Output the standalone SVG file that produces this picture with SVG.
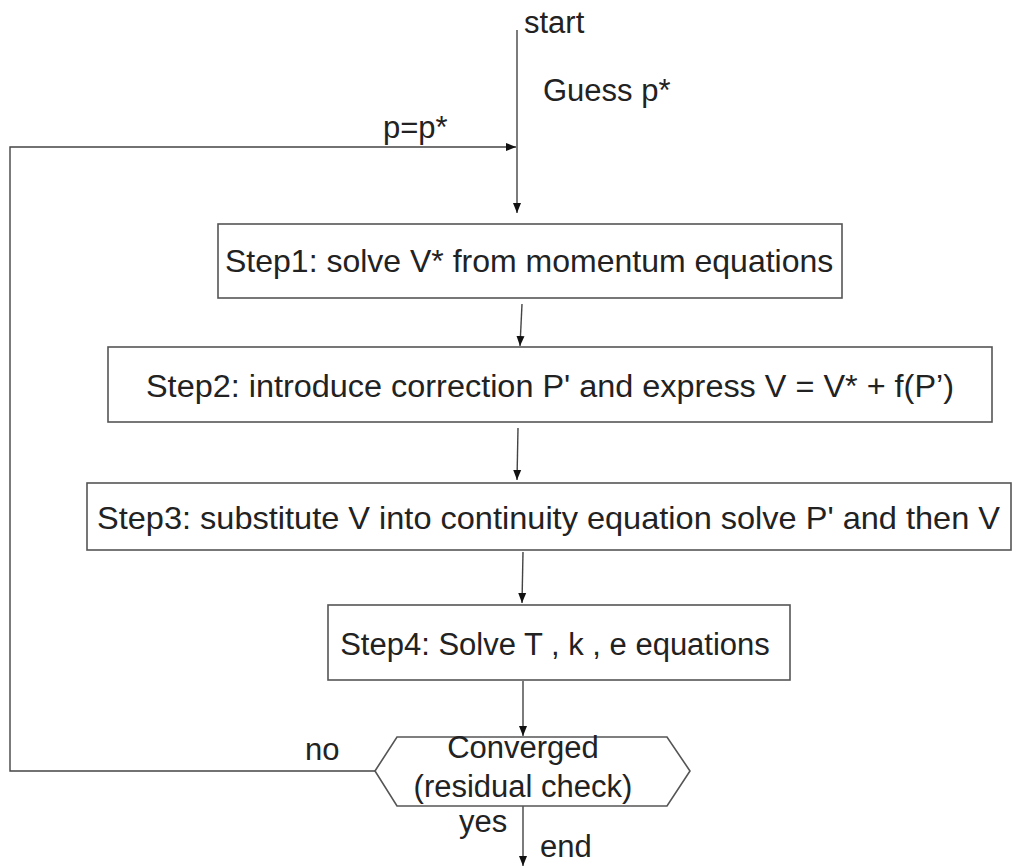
<svg xmlns="http://www.w3.org/2000/svg" width="1012" height="868" viewBox="0 0 1012 868">
<style>
.box{fill:#fff;stroke:#555;stroke-width:1.6}
.ln{fill:none;stroke:#444;stroke-width:1.4}
.t{font-family:"Liberation Sans",Arial,sans-serif;font-size:31px;fill:#222}
.c{text-anchor:middle}
</style>
<defs>
<marker id="ah" viewBox="0 0 10 10" refX="10" refY="5" markerWidth="10" markerHeight="10" markerUnits="userSpaceOnUse" orient="auto">
<path d="M0,1 L10,5 L0,9 Z" fill="#111"/>
</marker>
</defs>
<g id="connectors">
<line class="ln" x1="517" y1="30" x2="517" y2="213" marker-end="url(#ah)"/>
<polyline class="ln" points="375,771 10,771 10,147 516,147" marker-end="url(#ah)"/>
<line class="ln" x1="522" y1="304" x2="520" y2="346" marker-end="url(#ah)"/>
<line class="ln" x1="518" y1="428" x2="517" y2="480" marker-end="url(#ah)"/>
<line class="ln" x1="523" y1="552" x2="522" y2="603" marker-end="url(#ah)"/>
<line class="ln" x1="523" y1="681" x2="523" y2="736" marker-end="url(#ah)"/>
<line class="ln" x1="523" y1="806" x2="523" y2="866" marker-end="url(#ah)"/>
<text class="t" x="524" y="33">start</text>
<text class="t" x="543" y="101">Guess p*</text>
<text class="t" x="383" y="138">p=p*</text>
<text class="t" x="305" y="760">no</text>
<text class="t" x="459" y="832">yes</text>
<text class="t" x="540" y="857">end</text>
</g>
<g id="step1">
<rect class="box" x="218" y="224" width="624" height="74"/>
<text class="t" x="225" y="272" style="font-size:32px">Step1: solve V* from momentum equations</text>
</g>
<g id="step2">
<rect class="box" x="108" y="347" width="884" height="75"/>
<text class="t" x="146" y="397" textLength="808" lengthAdjust="spacingAndGlyphs">Step2: introduce correction P' and express V = V* + f(P’)</text>
</g>
<g id="step3">
<rect class="box" x="87" y="483" width="924" height="67"/>
<text class="t" x="97" y="529" style="font-size:32px" textLength="903" lengthAdjust="spacingAndGlyphs">Step3: substitute V into continuity equation solve P' and then V</text>
</g>
<g id="step4">
<rect class="box" x="328" y="605" width="462" height="75"/>
<text class="t c" x="555" y="655">Step4: Solve T , k , e equations</text>
</g>
<g id="converged">
<polygon class="box" points="375,771 397,737 667,737 690,771 667,806 397,806"/>
<text class="t c" x="523" y="758">Converged</text>
<text class="t c" x="523" y="797">(residual check)</text>
</g>
</svg>
